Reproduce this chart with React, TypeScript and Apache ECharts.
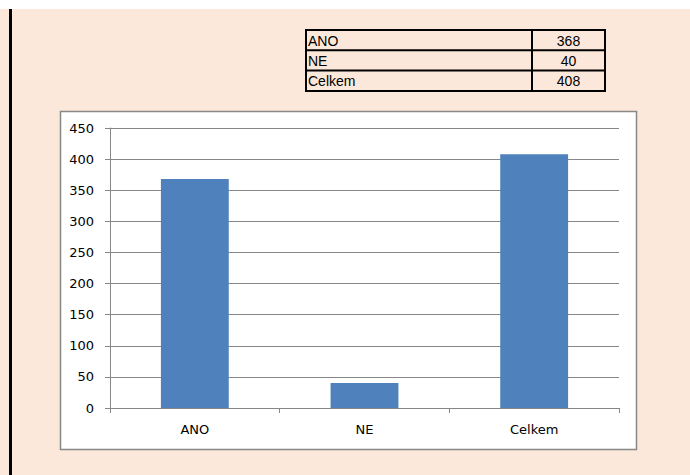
import React, { useEffect, useRef } from "react";
import * as echarts from "echarts";

const categories = ["ANO", "NE", "Celkem"];
const values = [368, 40, 408];
const yTicks = { min: 0, max: 450, interval: 50 };

const PEACH = "#FCE8DA";
const BAR = "#4F81BD";
const GRIDC = "#878787";

export default function App() {
  const ref = useRef<HTMLDivElement>(null);

  useEffect(() => {
    if (!ref.current) return;
    const chart = echarts.init(ref.current, null, { renderer: "svg" });

    const tblX = 306;
    const tblY = 30;
    const tblW = 299;
    const rowH = 20.3;
    const colX = 532;
    const tableEls: any[] = [];
    categories.forEach((c, i) => {
      const cy = tblY + rowH * i + rowH / 2 + 0.5;
      tableEls.push({
        type: "text",
        x: tblX + 2,
        y: cy,
        z: 20,
        style: {
          text: c,
          fill: "#000",
          font: "14px 'Liberation Sans', Arial, sans-serif",
          verticalAlign: "middle",
          align: "left",
        },
      });
      tableEls.push({
        type: "text",
        x: (colX + tblX + tblW) / 2,
        y: cy,
        z: 20,
        style: {
          text: String(values[i]),
          fill: "#000",
          font: "14px 'Liberation Sans', Arial, sans-serif",
          verticalAlign: "middle",
          align: "center",
        },
      });
      if (i > 0) {
        tableEls.push({
          type: "line",
          z: 20,
          shape: { x1: tblX, y1: tblY + rowH * i, x2: tblX + tblW, y2: tblY + rowH * i },
          style: { stroke: "#000", lineWidth: 2 },
        });
      }
    });
    tableEls.push({
      type: "line",
      z: 20,
      shape: { x1: colX, y1: tblY, x2: colX, y2: tblY + rowH * 3 },
      style: { stroke: "#000", lineWidth: 2 },
    });
    tableEls.push({
      type: "rect",
      z: 20,
      shape: { x: tblX, y: tblY, width: tblW, height: rowH * 3 },
      style: { fill: "none", stroke: "#000", lineWidth: 2 },
    });

    chart.setOption({
      animation: false,
      backgroundColor: PEACH,
      graphic: [
        {
          type: "rect",
          z: -10,
          shape: { x: 0, y: 0, width: 690, height: 9 },
          style: { fill: "#FFFFFF" },
        },
        {
          type: "rect",
          z: -10,
          shape: { x: 9, y: 9, width: 3, height: 466 },
          style: { fill: "#000000" },
        },
        {
          type: "rect",
          z: -10,
          shape: { x: 60.5, y: 111.5, width: 576, height: 338 },
          style: { fill: "#FFFFFF", stroke: "#888888", lineWidth: 1.5 },
        },
        ...tableEls,
      ],
      grid: {
        left: 110,
        right: 71,
        top: 128,
        height: 280,
        containLabel: false,
      },
      xAxis: {
        type: "category",
        data: categories,
        axisLine: { show: true, lineStyle: { color: GRIDC, width: 1 } },
        axisTick: {
          show: true,
          alignWithLabel: false,
          length: 5,
          lineStyle: { color: GRIDC },
        },
        axisLabel: {
          color: "#000",
          fontFamily: "'DejaVu Sans', sans-serif",
          fontSize: 13,
          margin: 15,
        },
        splitLine: { show: false },
      },
      yAxis: {
        type: "value",
        min: yTicks.min,
        max: yTicks.max,
        interval: yTicks.interval,
        axisLine: { show: true, lineStyle: { color: GRIDC, width: 1 } },
        axisTick: { show: true, length: 5, lineStyle: { color: GRIDC } },
        axisLabel: {
          color: "#000",
          fontFamily: "'DejaVu Sans', sans-serif",
          fontSize: 13,
          margin: 16,
        },
        splitLine: { show: true, lineStyle: { color: GRIDC, width: 1 } },
      },
      series: [
        {
          type: "bar",
          data: values,
          barWidth: "40%",
          itemStyle: { color: BAR },
        },
      ],
    });

    return () => chart.dispose();
  }, []);

  return (
    <div
      ref={ref}
      style={{ width: 690, height: 475, position: "absolute", left: 0, top: 0 }}
    />
  );
}
